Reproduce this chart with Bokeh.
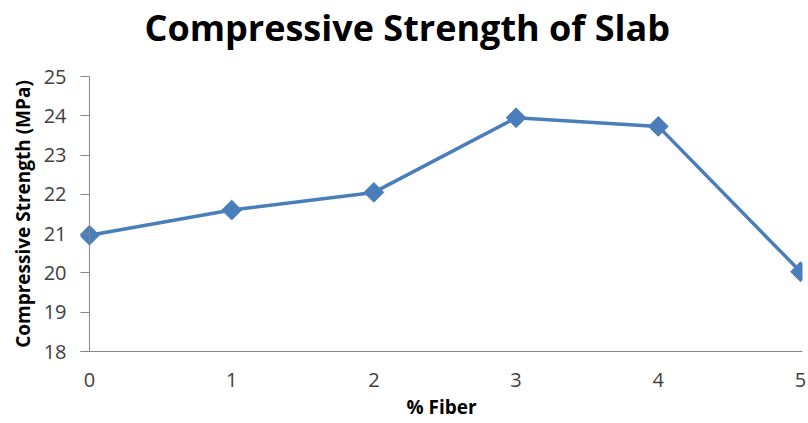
import math
from bokeh.plotting import figure
from bokeh.models import Range1d, ColumnDataSource, Title, FixedTicker, Span
from bokeh.embed import file_html
from bokeh.resources import INLINE

fiber = [0, 1, 2, 3, 4, 5]
strength = [20.96, 21.60, 22.05, 23.95, 23.73, 20.03]
x_ticks = [0, 1, 2, 3, 4, 5]
y_ticks = [18, 19, 20, 21, 22, 23, 24, 25]
title_text = "Compressive Strength of Slab"

src = ColumnDataSource(dict(x=fiber, y=strength))

p = figure(width=808, height=423, output_backend="svg", toolbar_location=None,
           x_range=Range1d(-0.063, 5.014), y_range=Range1d(18, 25),
           min_border_left=80, min_border_right=6, min_border_top=75, min_border_bottom=72)
p.title = None
# spacer (nearest to the frame) so the real title sits near the top of the canvas
p.add_layout(Title(text=" ", text_font_size="1px", standoff=22), "above")
p.add_layout(Title(text=title_text, align="left",
                   text_font="Open Sans", text_font_size="36px", text_font_style="bold",
                   text_color="#000000", offset=64, standoff=0), "above")
p.outline_line_color = None
p.grid.visible = False
p.background_fill_color = "white"
p.border_fill_color = "white"

# visible y axis line at x = 0
p.add_layout(Span(location=0, dimension="height", line_color="#868686", line_width=1))

p.line("x", "y", source=src, line_color="#4A7EBB", line_width=3.5)
p.scatter("x", "y", source=src, marker="square", size=14, angle=math.pi / 4,
          fill_color="#4A7EBB", line_color="#4A7EBB")

ya = p.yaxis[0]
ya.ticker = FixedTicker(ticks=y_ticks)
ya.axis_line_color = None
ya.major_tick_line_color = "#868686"
ya.major_tick_out = 0
ya.major_tick_in = 9
ya.minor_tick_line_color = None
ya.major_label_text_font = "Open Sans"
ya.major_label_text_font_size = "20px"
ya.major_label_text_color = "#404040"
ya.major_label_standoff = 14
ya.axis_label = "Compressive Strength (MPa)"
ya.axis_label_text_font = "Open Sans"
ya.axis_label_text_font_size = "19px"
ya.axis_label_text_font_style = "bold"
ya.axis_label_text_color = "#000000"
ya.axis_label_standoff = 5

xa = p.xaxis[0]
xa.ticker = FixedTicker(ticks=x_ticks)
xa.axis_line_color = "#868686"
xa.major_tick_line_color = None
xa.minor_tick_line_color = None
xa.major_label_text_font = "Open Sans"
xa.major_label_text_font_size = "20px"
xa.major_label_text_color = "#404040"
xa.major_label_standoff = 15
xa.axis_label = "% Fiber"
xa.axis_label_text_font = "Open Sans"
xa.axis_label_text_font_size = "19px"
xa.axis_label_text_font_style = "bold"
xa.axis_label_text_color = "#000000"
xa.axis_label_standoff = 4

open("out.html", "w").write(file_html(p, INLINE))
